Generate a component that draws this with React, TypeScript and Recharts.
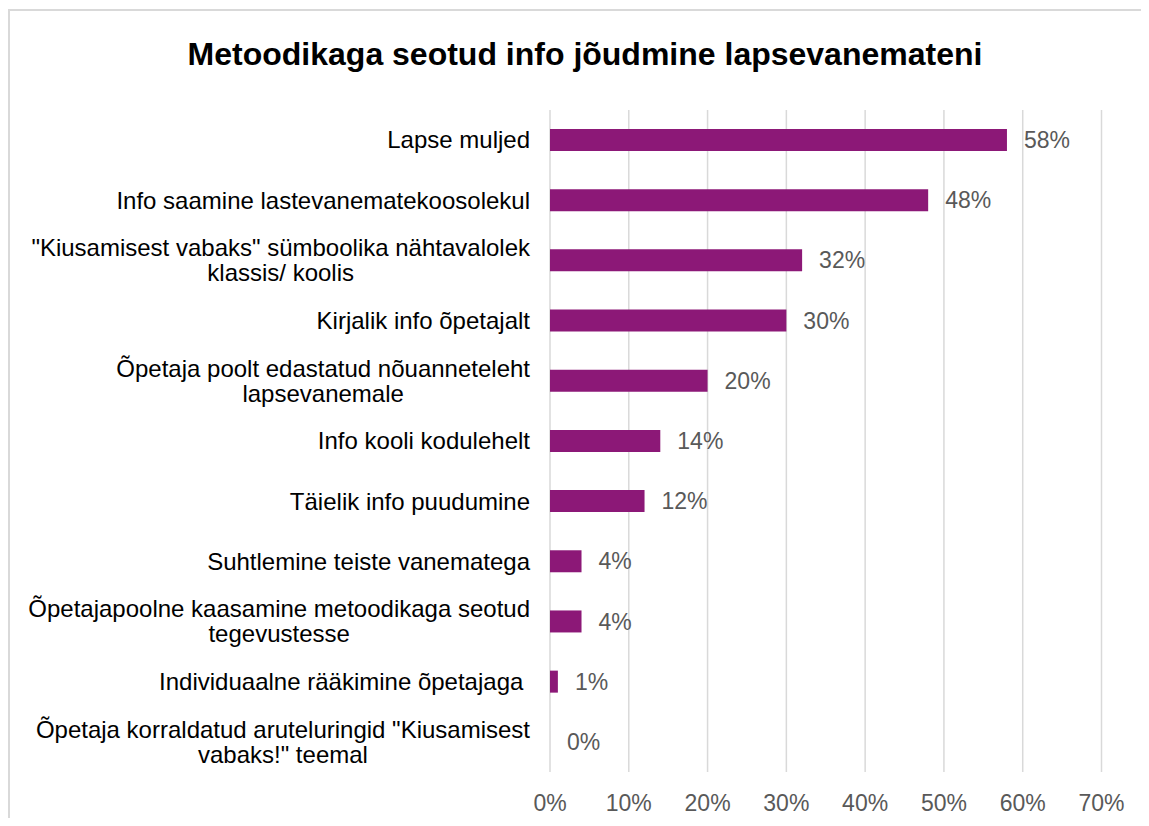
import React from "react";
import { BarChart, Bar, XAxis, YAxis, CartesianGrid, LabelList } from "recharts";

const CATEGORIES = [
  "Lapse muljed",
  "Info saamine lastevanematekoosolekul",
  '"Kiusamisest vabaks" sümboolika nähtavalolek\nklassis/ koolis',
  "Kirjalik info õpetajalt",
  "Õpetaja poolt edastatud nõuanneteleht\nlapsevanemale",
  "Info kooli kodulehelt",
  "Täielik info puudumine",
  "Suhtlemine teiste vanematega",
  "Õpetajapoolne kaasamine metoodikaga seotud\ntegevustesse",
  "Individuaalne rääkimine õpetajaga ",
  'Õpetaja korraldatud aruteluringid "Kiusamisest\nvabaks!" teemal',
];

const VALUES = [58, 48, 32, 30, 20, 14, 12, 4, 4, 1, 0];

const X_TICKS = [0, 10, 20, 30, 40, 50, 60, 70];

const TITLE = "Metoodikaga seotud info jõudmine lapsevanemateni";

const FONT = '"Liberation Sans", Arial, sans-serif';
const BAR_COLOR = "#8C1877";
const GRID_COLOR = "#d9d9d9";
const MUTED = "#595959";

const data = CATEGORIES.map((name, i) => ({ name, value: VALUES[i] }));

let ctx: CanvasRenderingContext2D | null = null;
function textWidth(s: string, font: string) {
  if (!ctx) ctx = document.createElement("canvas").getContext("2d");
  if (!ctx) return s.length * 11;
  ctx.font = font;
  return ctx.measureText(s).width;
}

function CategoryTick(props: any) {
  const { x, y, payload } = props;
  const lines = String(payload.value).split("\n");
  const w = Math.max(...lines.map((l) => textWidth(l, `24px ${FONT}`)));
  const cx = x - w / 2;
  const lh = 25;
  return (
    <text
      textAnchor="middle"
      fill="#000"
      fontSize={24}
      fontFamily={FONT}
      style={{ whiteSpace: "pre" }}
    >
      {lines.map((l, i) => (
        <tspan key={i} x={cx} y={y + (i - (lines.length - 1) / 2) * lh} dy="0.35em">
          {l}
        </tspan>
      ))}
    </text>
  );
}

function ValueLabel(props: any) {
  const { x, y, width, height, value } = props;
  return (
    <text
      x={x + width + 17}
      y={y + height / 2}
      dy="0.35em"
      fill={MUTED}
      fontSize={23}
      fontFamily={FONT}
    >
      {`${value}%`}
    </text>
  );
}

export default function App() {
  return (
    <div
      style={{
        position: "relative",
        width: 1141,
        height: 810,
        overflow: "hidden",
        fontFamily: FONT,
      }}
    >
      <div
        style={{
          position: "absolute",
          top: 1,
          left: 0,
          width: 1300,
          height: 1000,
          borderTop: `2px solid ${GRID_COLOR}`,
          borderLeft: `2px solid ${GRID_COLOR}`,
        }}
      />
      <div
        style={{
          position: "absolute",
          top: 28,
          left: 0,
          width: 1154,
          textAlign: "center",
          fontSize: 32,
          fontWeight: "bold",
          color: "#000",
          lineHeight: "36px",
          whiteSpace: "nowrap",
        }}
      >
        {TITLE}
      </div>
      <div style={{ position: "absolute", top: 2, left: 0 }}>
        <BarChart
          width={1141}
          height={808}
          layout="vertical"
          data={data}
          margin={{ top: 100, right: 47.5, bottom: 6, left: 0 }}
        >
          <CartesianGrid horizontal={false} stroke={GRID_COLOR} strokeWidth={1.5} />
          <XAxis
            type="number"
            domain={[0, 70]}
            ticks={X_TICKS}
            interval={0}
            tickFormatter={(v: number) => `${v}%`}
            axisLine={false}
            tickLine={false}
            tickMargin={17}
            height={40}
            tick={{ fill: MUTED, fontSize: 23, fontFamily: FONT }}
          />
          <YAxis
            type="category"
            dataKey="name"
            width={542}
            interval={0}
            axisLine={false}
            tickLine={false}
            tickSize={0}
            tickMargin={20}
            tick={<CategoryTick />}
          />
          <Bar
            dataKey="value"
            fill={BAR_COLOR}
            barSize={22}
            minPointSize={(v: number) => (v === 0 ? 0.01 : 0)}
            isAnimationActive={false}
          >
            <LabelList dataKey="value" content={<ValueLabel />} />
          </Bar>
        </BarChart>
      </div>
    </div>
  );
}
